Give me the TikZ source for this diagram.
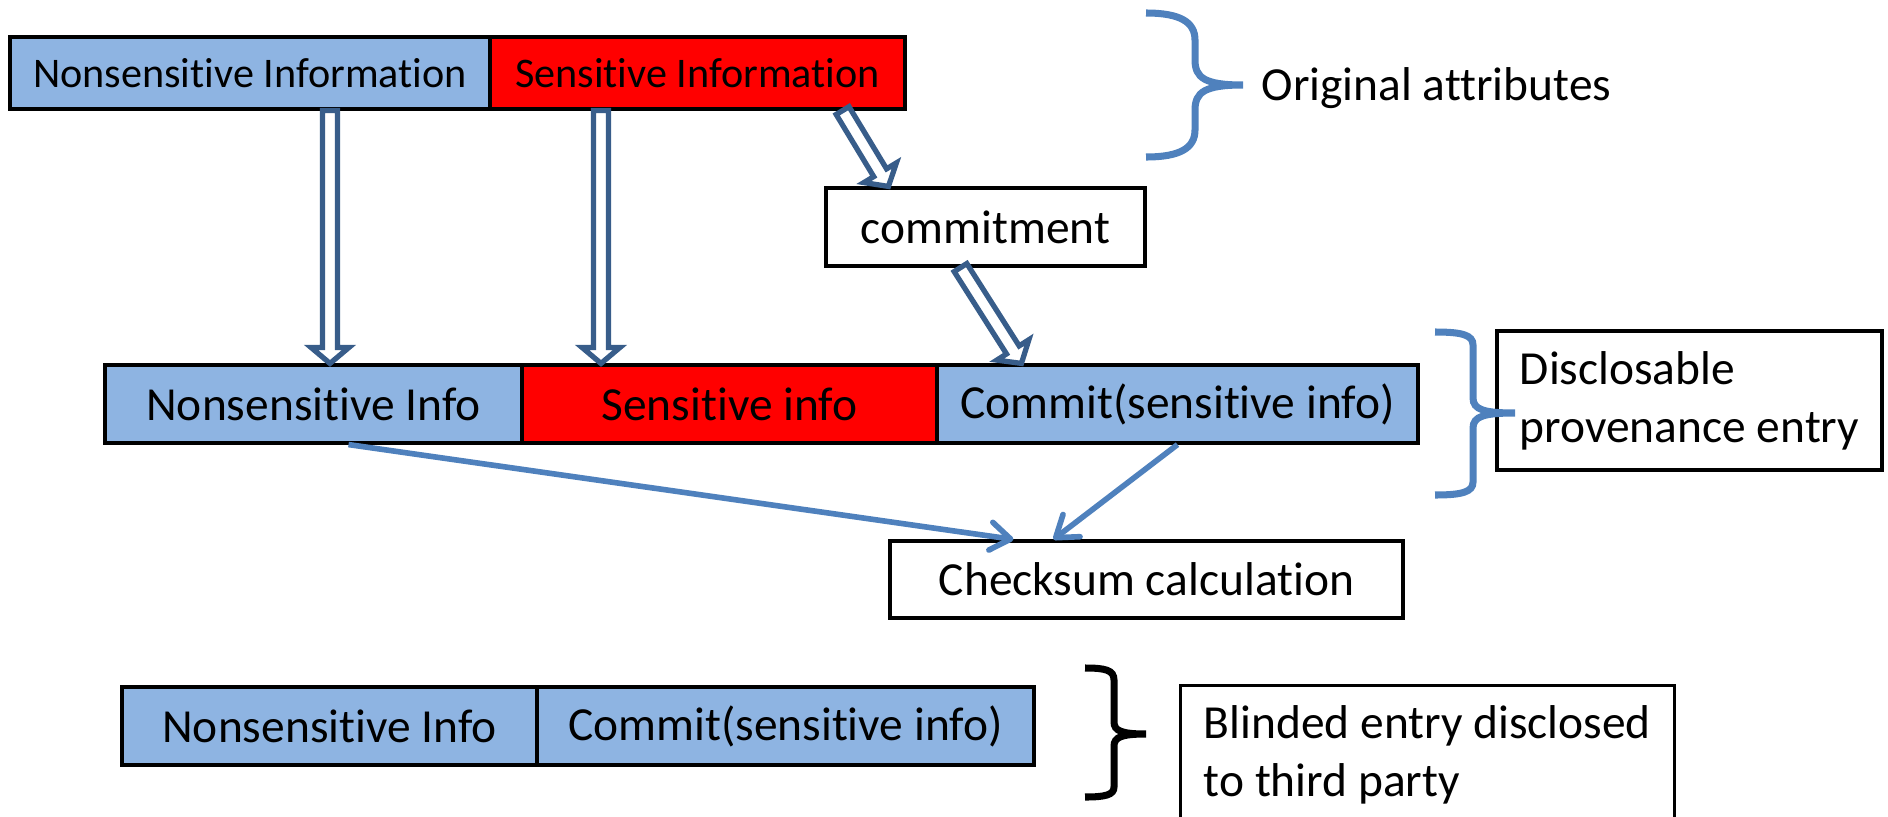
\documentclass[tikz,border=0pt]{standalone}
\usepackage{fontspec}
\setmainfont{Carlito}[Ligatures={CommonOff,ContextualOff}, Contextuals=AlternateOff]
\usetikzlibrary{calc,arrows.meta}
\definecolor{cellblue}{RGB}{142,180,226}
\definecolor{linkblue}{RGB}{79,129,189}
\definecolor{hollowblue}{RGB}{56,93,138}
% outlined block arrow from #1 to #2
\newcommand{\hollowarrow}[2]{%
  \coordinate (hb) at ($(#2)!0.16cm!(#1)$);
  \draw[hollow] ($(#1)!0.075cm!90:(#2)$) -- ($(hb)!0.075cm!90:(#2)$) -- ($(hb)!0.19cm!90:(#2)$) -- (#2)
    -- ($(hb)!0.19cm!-90:(#2)$) -- ($(hb)!0.075cm!-90:(#2)$) -- ($(#1)!0.075cm!-90:(#2)$) -- cycle;}
\begin{document}
\begin{tikzpicture}[x=1cm, y=1cm,
    cell/.style={draw=black, line width=0.9pt, inner sep=0pt, minimum height=0.78cm, font=\fontsize{13.5}{16.5}\selectfont},
    topcell/.style={cell, minimum height=0.72cm, font=\fontsize{12}{14}\selectfont},
    plain/.style={fill=cellblue},
    secret/.style={fill=red},
    box/.style={cell, fill=white},
    note/.style={draw=black, line width=1.2pt, align=left, inner sep=0.2cm, font=\fontsize{13.5}{16.5}\selectfont},
    link/.style={draw=linkblue, line width=1.6pt, -{Straight Barb[length=2mm, width=2.8mm, round]}},
    hollow/.style={draw=hollowblue, fill=white, line width=1.5pt, line join=miter},
    brc/.style={draw=linkblue, line width=2pt}]
    \useasboundingbox (0,0) rectangle (18.88,-8.17);
    \clip (0,0) rectangle (18.88,-8.17);
    % original attributes
    \node[topcell, plain, minimum width=4.80cm] (nsi) at (2.50,-0.73) {Nonsensitive Information};
    \node[topcell, secret, minimum width=4.15cm] (sens) at (6.975,-0.73) {Sensitive Information};
    \node[box, minimum width=3.19cm] (cmt) at (9.855,-2.27) {commitment};
    \node[font=\fontsize{13.5}{16.5}\selectfont, anchor=base west, inner sep=0pt] (orig) at (12.61,-1.00) {Original attributes};
    % disclosable provenance entry
    \node[cell, plain, minimum width=4.17cm] (ns) at (3.135,-4.04) {Nonsensitive Info};
    \node[cell, secret, minimum width=4.15cm] (ss) at (7.295,-4.04) {Sensitive info};
    \node[cell, plain, minimum width=4.81cm] (cm) at (11.775,-4.04) {Commit(sensitive info)};
    \node[note, minimum width=3.85cm, minimum height=1.39cm] (disc) at (16.895,-4.005) {Disclosable\\provenance entry};
    \node[box, minimum width=5.13cm, minimum height=0.77cm] (chk) at (11.465,-5.795) {Checksum calculation};
    % blinded entry
    \node[cell, plain, minimum width=4.15cm] (bn) at (3.295,-7.26) {Nonsensitive Info};
    \node[cell, plain, minimum width=4.97cm] (bc) at (7.855,-7.26) {Commit(sensitive info)};
    \node[note, line width=0.8pt, anchor=north west, minimum width=4.94cm] (blind) at (11.79,-6.84) {Blinded entry disclosed\\to third party};
    % block arrows
    \coordinate (a1) at ([xshift=0.80cm]nsi.south);
    \coordinate (b1) at (a1 |- ns.north);
    \coordinate (a2) at ([xshift=-0.965cm]sens.south);
    \coordinate (b2) at (a2 |- ss.north);
    \coordinate (a3) at ([xshift=-0.64cm]sens.south east);
    \coordinate (b3) at ([xshift=0.64cm]cmt.north west);
    \coordinate (a4) at ([xshift=-0.25cm]cmt.south);
    \coordinate (b4) at ([xshift=0.86cm]cm.north west);
    \foreach \a/\b in {a1/b1, a2/b2, a3/b3, a4/b4} {\hollowarrow{\a}{\b}}
    % checksum inputs
    \draw[link] ([xshift=0.35cm]ns.south) -- ([xshift=1.25cm]chk.north west);
    \draw[link] (cm.south) -- ([xshift=1.65cm]chk.north west);
    % braces
    \draw[brc] (11.46,-0.13) .. controls (11.80,-0.13) and (11.95,-0.22) .. (11.95,-0.40) -- (11.95,-0.60)
        .. controls (11.95,-0.78) and (12.05,-0.85) .. (12.43,-0.85)
        .. controls (12.05,-0.85) and (11.95,-0.92) .. (11.95,-1.10) -- (11.95,-1.30)
        .. controls (11.95,-1.48) and (11.80,-1.57) .. (11.46,-1.57);
    \draw[brc] (14.35,-3.32) .. controls (14.62,-3.32) and (14.73,-3.35) .. (14.73,-3.45) -- (14.73,-3.98)
        .. controls (14.73,-4.10) and (14.85,-4.13) .. (15.15,-4.13)
        .. controls (14.85,-4.13) and (14.73,-4.16) .. (14.73,-4.28) -- (14.73,-4.82)
        .. controls (14.73,-4.92) and (14.62,-4.95) .. (14.35,-4.95);
    \draw[brc, draw=black] (10.85,-6.68) .. controls (11.05,-6.68) and (11.14,-6.70) .. (11.14,-6.80) -- (11.14,-7.22)
        .. controls (11.14,-7.31) and (11.22,-7.34) .. (11.46,-7.34)
        .. controls (11.22,-7.34) and (11.14,-7.37) .. (11.14,-7.46) -- (11.14,-7.87)
        .. controls (11.14,-7.95) and (11.05,-7.97) .. (10.85,-7.97);
\end{tikzpicture}
\end{document}
